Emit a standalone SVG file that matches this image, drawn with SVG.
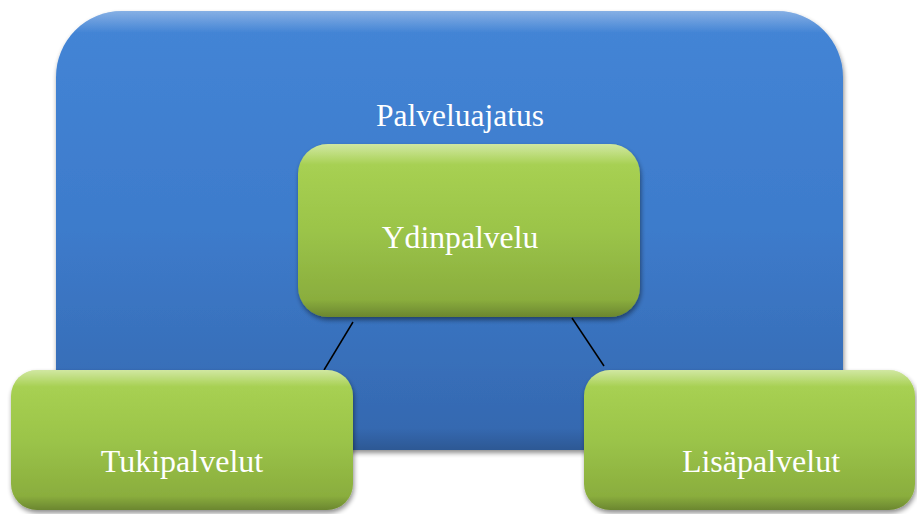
<svg xmlns="http://www.w3.org/2000/svg" width="917" height="514" viewBox="0 0 917 514">
<defs>
<linearGradient id="gBlue" x1="0" y1="0" x2="0" y2="1">
<stop offset="0" stop-color="#4485d6"/>
<stop offset="0.5" stop-color="#3d7bcb"/>
<stop offset="1" stop-color="#3467ae"/>
</linearGradient>
<linearGradient id="gGreen" x1="0" y1="0" x2="0" y2="1">
<stop offset="0" stop-color="#abd455"/>
<stop offset="0.5" stop-color="#9bc449"/>
<stop offset="1" stop-color="#86a83b"/>
</linearGradient>
<linearGradient id="gHi" x1="0" y1="0" x2="0" y2="1">
<stop offset="0" stop-color="#ffffff" stop-opacity="0.45"/>
<stop offset="0.12" stop-color="#ffffff" stop-opacity="0"/>
<stop offset="0.9" stop-color="#000000" stop-opacity="0"/>
<stop offset="1" stop-color="#000000" stop-opacity="0.2"/>
</linearGradient>
<linearGradient id="gHiB" x1="0" y1="0" x2="0" y2="1">
<stop offset="0" stop-color="#ffffff" stop-opacity="0.35"/>
<stop offset="0.05" stop-color="#ffffff" stop-opacity="0"/>
<stop offset="0.95" stop-color="#000000" stop-opacity="0"/>
<stop offset="1" stop-color="#000000" stop-opacity="0.15"/>
</linearGradient>
<filter id="sh" x="-10%" y="-10%" width="120%" height="125%">
<feGaussianBlur in="SourceAlpha" stdDeviation="2.5"/>
<feOffset dx="1" dy="3" result="b"/>
<feComponentTransfer><feFuncA type="linear" slope="0.45"/></feComponentTransfer>
<feMerge><feMergeNode/><feMergeNode in="SourceGraphic"/></feMerge>
</filter>
</defs>
<style>
.c{stroke:#000000;stroke-width:1.5;fill:none}
text{font-family:Liberation Serif, Tinos, Times New Roman, Times, DejaVu Serif, Noto Serif, serif;fill:#ffffff;text-anchor:middle}
</style>
<g id="palveluajatus">
<rect x="56" y="11" width="787" height="439" rx="66" ry="66" fill="url(#gBlue)" filter="url(#sh)"/>
<rect x="56" y="11" width="787" height="439" rx="66" ry="66" fill="url(#gHiB)"/>
<text x="460" y="126" font-size="31.5">Palveluajatus</text>
</g>
<g id="connectors">
<line class="c" x1="353" y1="322" x2="324" y2="370"/>
<line class="c" x1="572" y1="318" x2="604" y2="366"/>
</g>
<g id="ydinpalvelu">
<rect x="298" y="144" width="342" height="173" rx="30" ry="30" fill="url(#gGreen)" filter="url(#sh)"/>
<rect x="298" y="144" width="342" height="173" rx="30" ry="30" fill="url(#gHi)"/>
<text x="460" y="248" font-size="31.7">Ydinpalvelu</text>
</g>
<g id="tukipalvelut">
<rect x="11" y="370" width="342" height="140" rx="26" ry="26" fill="url(#gGreen)" filter="url(#sh)"/>
<rect x="11" y="370" width="342" height="140" rx="26" ry="26" fill="url(#gHi)"/>
<text x="182" y="472" font-size="32">Tukipalvelut</text>
</g>
<g id="lisapalvelut">
<rect x="584" y="370" width="331" height="140" rx="26" ry="26" fill="url(#gGreen)" filter="url(#sh)"/>
<rect x="584" y="370" width="331" height="140" rx="26" ry="26" fill="url(#gHi)"/>
<text x="761" y="472" font-size="32">Lisäpalvelut</text>
</g>
</svg>
